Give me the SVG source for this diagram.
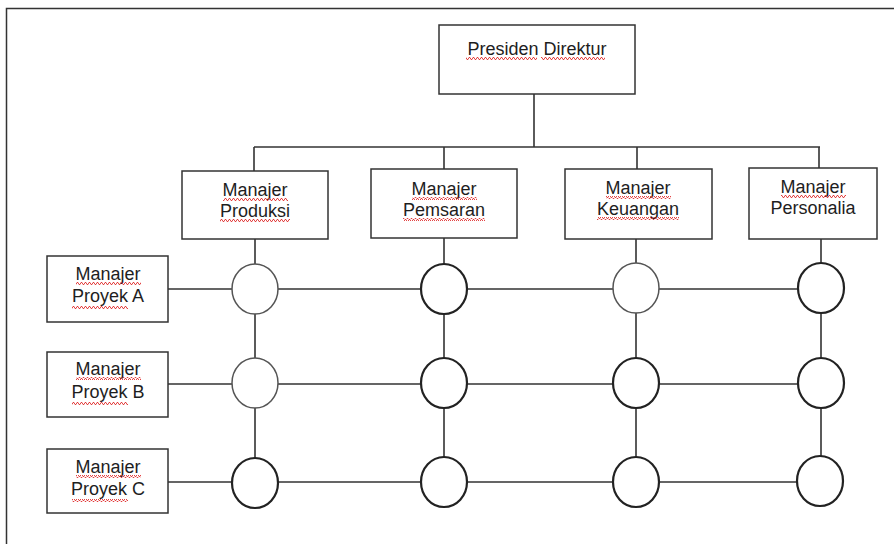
<svg xmlns="http://www.w3.org/2000/svg" width="894" height="544" viewBox="0 0 894 544">
  <style>
    .box { fill: #ffffff; stroke: #333333; stroke-width: 1.5; }
    .wire { fill: none; stroke: #333333; stroke-width: 1.6; }
    .frame { fill: none; stroke: #333333; stroke-width: 1.5; }
    .cell { fill: #ffffff; stroke: #222222; stroke-width: 2.2; }
    .cell.light { stroke: #555555; stroke-width: 1.5; }
    .lbl { font-family: "Liberation Sans", Arial, sans-serif; font-size: 18px; fill: #1e1e1e; text-anchor: middle; }
    .squig { fill: url(#wave); }
  </style>
  <defs>
    <!-- spell-check style red wavy underline -->
    <pattern id="wave" width="4" height="3" patternUnits="userSpaceOnUse">
      <path d="M0,2.5 L1,0.5 L2,0.5 L3,2.5 L4,2.5" fill="none" stroke="#e03030" stroke-width="0.9"/>
    </pattern>
  </defs>

  <rect width="894" height="544" fill="#ffffff"/>

  <!-- outer page frame -->
  <path class="frame" d="M6.5,548 V8.5 H900"/>

  <!-- connectors -->
  <g id="connectors">
    <path class="wire" d="M534,94 V147"/>
    <path class="wire" d="M254,147 H820"/>
    <path class="wire" d="M254,147 V171 M444,147 V169 M637,147 V169 M819,147 V168"/>
    <!-- column lines -->
    <path class="wire" d="M255,239 V482 M444,238 V482 M636,239 V482 M821,239 V482"/>
    <!-- project row lines -->
    <path class="wire" d="M168,289 H821 M168,384 H821 M168,482 H821"/>
  </g>

  <!-- top management -->
  <g id="presiden-direktur">
    <rect class="box" x="439" y="25" width="196" height="69"/>
    <text class="lbl" x="537" y="55">Presiden Direktur</text>
    <rect class="squig" x="466" y="57" width="71" height="3"/>
    <rect class="squig" x="541" y="57" width="64" height="3"/>
  </g>

  <!-- functional managers -->
  <g id="manajer-produksi">
    <rect class="box" x="182" y="171" width="146" height="68"/>
    <text class="lbl" x="255" y="196">Manajer</text>
    <text class="lbl" x="255" y="217">Produksi</text>
    <rect class="squig" x="223" y="198" width="65" height="3"/>
    <rect class="squig" x="220" y="219" width="70" height="3"/>
  </g>
  <g id="manajer-pemsaran">
    <rect class="box" x="371" y="169" width="146" height="69"/>
    <text class="lbl" x="444" y="195">Manajer</text>
    <text class="lbl" x="444" y="216">Pemsaran</text>
    <rect class="squig" x="412" y="197" width="65" height="3"/>
    <rect class="squig" x="403" y="218" width="82" height="3"/>
  </g>
  <g id="manajer-keuangan">
    <rect class="box" x="565" y="169" width="147" height="70"/>
    <text class="lbl" x="638" y="194">Manajer</text>
    <text class="lbl" x="638" y="215">Keuangan</text>
    <rect class="squig" x="606" y="196" width="65" height="3"/>
    <rect class="squig" x="597" y="217" width="82" height="3"/>
  </g>
  <g id="manajer-personalia">
    <rect class="box" x="749" y="168" width="128" height="71"/>
    <text class="lbl" x="813" y="193">Manajer</text>
    <text class="lbl" x="813" y="214">Personalia</text>
    <rect class="squig" x="781" y="195" width="65" height="3"/>
  </g>

  <!-- project managers -->
  <g id="manajer-proyek-a">
    <rect class="box" x="47" y="256" width="121" height="66"/>
    <text class="lbl" x="108" y="280">Manajer</text>
    <text class="lbl" x="108" y="302">Proyek A</text>
    <rect class="squig" x="76" y="282" width="65" height="3"/>
    <rect class="squig" x="72" y="306" width="56" height="3"/>
  </g>
  <g id="manajer-proyek-b">
    <rect class="box" x="47" y="352" width="121" height="65"/>
    <text class="lbl" x="108" y="375">Manajer</text>
    <text class="lbl" x="108" y="398">Proyek B</text>
    <rect class="squig" x="76" y="377" width="65" height="3"/>
    <rect class="squig" x="72" y="402" width="56" height="3"/>
  </g>
  <g id="manajer-proyek-c">
    <rect class="box" x="47" y="449" width="121" height="64"/>
    <text class="lbl" x="108" y="473">Manajer</text>
    <text class="lbl" x="108" y="495">Proyek C</text>
    <rect class="squig" x="76" y="475" width="65" height="3"/>
    <rect class="squig" x="72" y="499" width="56" height="3"/>
  </g>

  <!-- matrix cells -->
  <g id="cell-a-produksi"><ellipse class="cell light" cx="255" cy="289" rx="23" ry="25"/></g>
  <g id="cell-a-pemsaran"><ellipse class="cell" cx="444" cy="289" rx="23" ry="25"/></g>
  <g id="cell-a-keuangan"><ellipse class="cell light" cx="636" cy="288" rx="23" ry="25"/></g>
  <g id="cell-a-personalia"><ellipse class="cell" cx="821" cy="288" rx="23" ry="25"/></g>

  <g id="cell-b-produksi"><ellipse class="cell light" cx="255" cy="383" rx="23" ry="25"/></g>
  <g id="cell-b-pemsaran"><ellipse class="cell" cx="444" cy="383" rx="23" ry="25"/></g>
  <g id="cell-b-keuangan"><ellipse class="cell" cx="636" cy="383" rx="23" ry="25"/></g>
  <g id="cell-b-personalia"><ellipse class="cell" cx="821" cy="383" rx="23" ry="25"/></g>

  <g id="cell-c-produksi"><ellipse class="cell" cx="255" cy="483" rx="23" ry="25"/></g>
  <g id="cell-c-pemsaran"><ellipse class="cell" cx="444" cy="482" rx="23" ry="25"/></g>
  <g id="cell-c-keuangan"><ellipse class="cell" cx="636" cy="482" rx="23" ry="25"/></g>
  <g id="cell-c-personalia"><ellipse class="cell" cx="820" cy="481" rx="23" ry="25"/></g>
</svg>
